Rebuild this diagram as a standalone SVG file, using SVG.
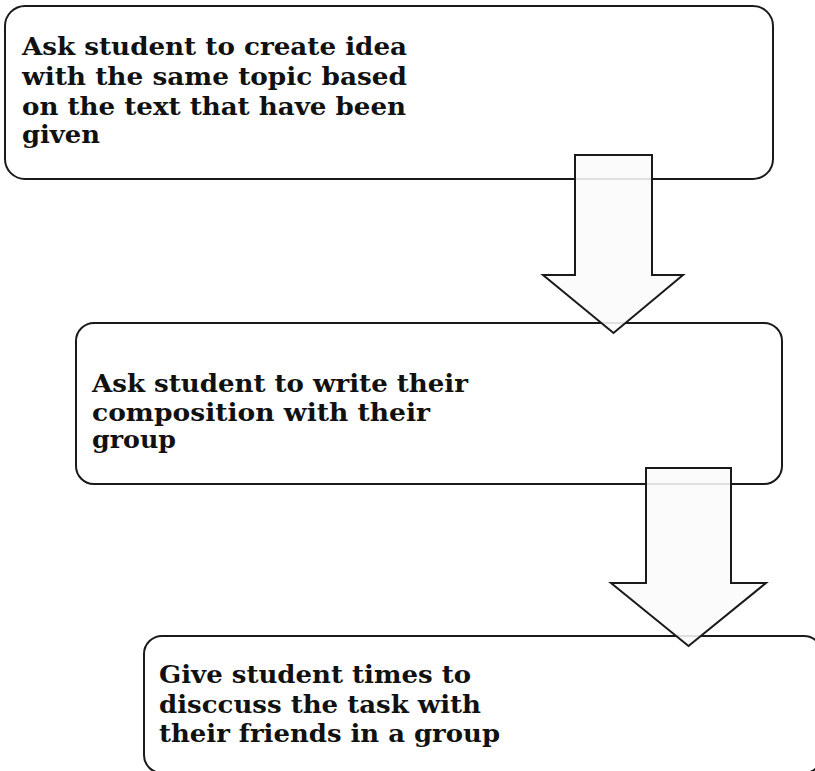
<svg xmlns="http://www.w3.org/2000/svg" width="815" height="771" viewBox="0 0 815 771">
<style>
.box{fill:#ffffff;stroke:#1a1a1a;stroke-width:2}
.arr{fill:#fbfbfb;fill-opacity:0.88;stroke:#1a1a1a;stroke-width:2;stroke-linejoin:miter}
.t{font-family:"DejaVu Serif","Liberation Serif",serif;font-weight:bold;font-size:24px;fill:#111111}
</style>
<rect width="815" height="771" fill="#ffffff"/>
<g id="node1">
<rect class="box" x="5" y="6" width="768" height="173" rx="20" ry="20"/>
<text class="t" x="22" y="55" textLength="385" lengthAdjust="spacingAndGlyphs">Ask student to create idea</text>
<text class="t" x="22" y="85" textLength="385" lengthAdjust="spacingAndGlyphs">with the same topic based</text>
<text class="t" x="22" y="115" textLength="384" lengthAdjust="spacingAndGlyphs">on the text that have been</text>
<text class="t" x="22" y="143" textLength="78" lengthAdjust="spacingAndGlyphs">given</text>
</g>
<g id="node2">
<rect class="box" x="76" y="323" width="706" height="161" rx="18" ry="18"/>
<text class="t" x="92" y="392" textLength="376" lengthAdjust="spacingAndGlyphs">Ask student to write their</text>
<text class="t" x="92" y="421" textLength="338" lengthAdjust="spacingAndGlyphs">composition with their</text>
<text class="t" x="92" y="448" textLength="84" lengthAdjust="spacingAndGlyphs">group</text>
</g>
<g id="node3">
<rect class="box" x="144" y="636" width="678" height="137" rx="18" ry="18"/>
<text class="t" x="159" y="683" textLength="312" lengthAdjust="spacingAndGlyphs">Give student times to</text>
<text class="t" x="159" y="713" textLength="322" lengthAdjust="spacingAndGlyphs">disccuss the task with</text>
<text class="t" x="159" y="742" textLength="341" lengthAdjust="spacingAndGlyphs">their friends in a group</text>
</g>
<g id="connectors">
<polygon class="arr" points="575,155 652,155 652,275 683,275 613.5,333 543,275 575,275"/>
<polygon class="arr" points="646,468 731,468 731,583 766,583 688.5,646 611,583 646,583"/>
</g>
</svg>
